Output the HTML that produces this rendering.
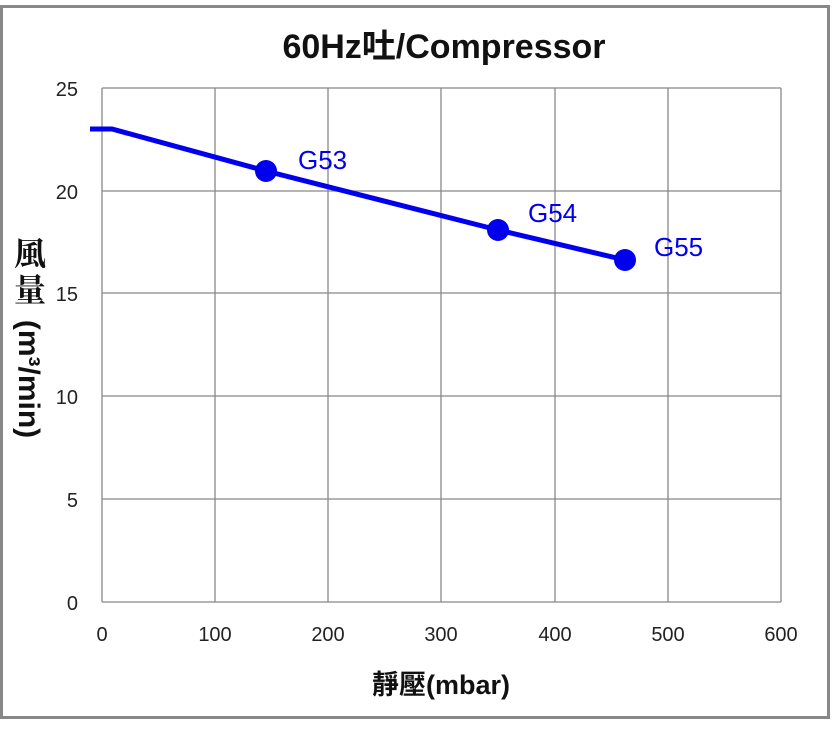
<!DOCTYPE html>
<html><head><meta charset="utf-8"><style>
body{margin:0;width:832px;height:728px;background:#fff;overflow:hidden}
</style></head><body>
<svg width="832" height="728" xmlns="http://www.w3.org/2000/svg" font-family="Liberation Sans, 'Noto Sans CJK TC', sans-serif">
<rect x="0" y="0" width="832" height="728" fill="#fff"/>
<rect x="1.5" y="6.5" width="827" height="711" fill="none" stroke="#888" stroke-width="3"/>
<g stroke="#888" stroke-width="1.3">
<line x1="102" y1="88" x2="781" y2="88"/><line x1="102" y1="191" x2="781" y2="191"/>
<line x1="102" y1="293" x2="781" y2="293"/><line x1="102" y1="396" x2="781" y2="396"/>
<line x1="102" y1="499" x2="781" y2="499"/><line x1="102" y1="602" x2="781" y2="602"/>
<line x1="102" y1="88" x2="102" y2="602"/><line x1="215" y1="88" x2="215" y2="602"/>
<line x1="328" y1="88" x2="328" y2="602"/><line x1="441" y1="88" x2="441" y2="602"/>
<line x1="555" y1="88" x2="555" y2="602"/><line x1="668" y1="88" x2="668" y2="602"/>
<line x1="781" y1="88" x2="781" y2="602"/>
</g>
<g font-size="20" fill="#222" text-anchor="end">
<text x="78" y="96">25</text><text x="78" y="199">20</text><text x="78" y="301">15</text>
<text x="78" y="404">10</text><text x="78" y="507">5</text><text x="78" y="610">0</text>
</g>
<g font-size="20" fill="#222" text-anchor="middle">
<text x="102" y="641">0</text><text x="215" y="641">100</text><text x="328" y="641">200</text>
<text x="441" y="641">300</text><text x="555" y="641">400</text><text x="668" y="641">500</text><text x="781" y="641">600</text>
</g>
<text x="444" y="58" font-size="34" font-weight="bold" text-anchor="middle" fill="#111">60Hz吐/Compressor</text>
<text x="441" y="694" font-size="27" font-weight="bold" text-anchor="middle" fill="#111">靜壓(mbar)</text>
<g font-family="'Noto Serif CJK SC', serif" font-size="32" font-weight="bold" fill="#111" text-anchor="middle">
<text x="30" y="265">風</text><text x="30" y="301">量</text>
</g>
<text transform="translate(19,379) rotate(90)" font-size="30" font-weight="bold" text-anchor="middle" fill="#111">(m³/min)</text>
<polyline points="90,129 112,129 266,171 498,230 625,260" fill="none" stroke="#0000ee" stroke-width="5"/>
<g fill="#0000ee"><circle cx="266" cy="171" r="11"/><circle cx="498" cy="230" r="11"/><circle cx="625" cy="260" r="11"/></g>
<g font-size="26" fill="#0000ee">
<text x="298" y="169">G53</text><text x="528" y="222">G54</text><text x="654" y="256">G55</text>
</g>
</svg>
</body></html>
